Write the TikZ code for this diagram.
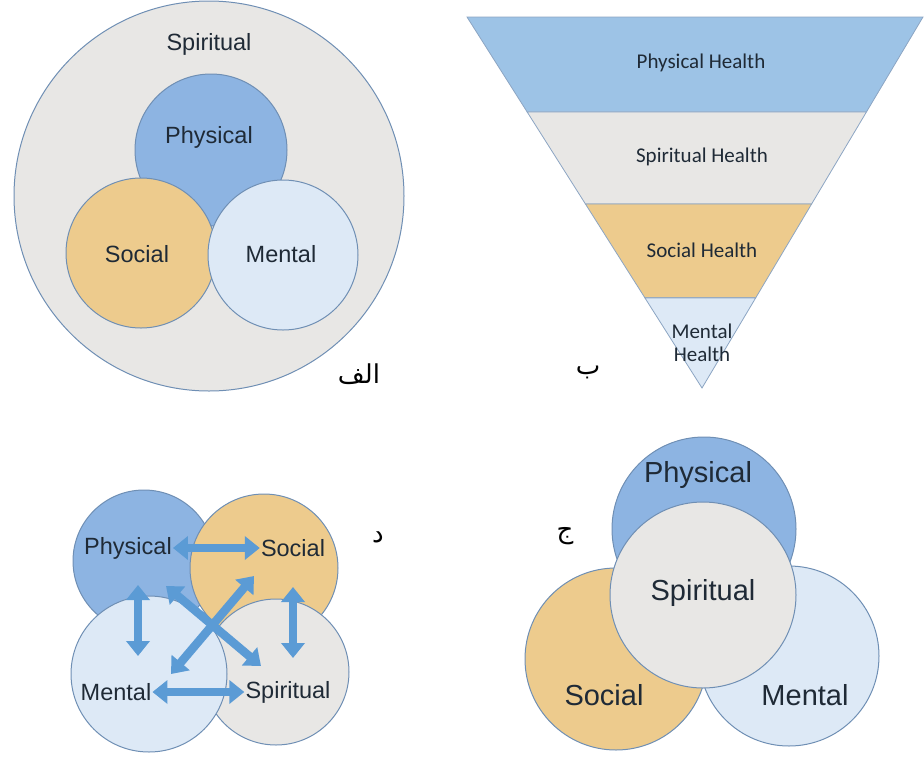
\documentclass[tikz,border=0pt]{standalone}
\usepackage{fontspec}
\setmainfont{Liberation Sans}
\newfontfamily\calibri{Carlito}
\newfontfamily\arabicfont[Script=Arabic]{DejaVu Sans}
\TeXXeTstate=1
\usetikzlibrary{arrows.meta}
\usetikzlibrary{calc}
\usetikzlibrary{positioning}

\definecolor{physblue}{HTML}{8DB4E2}
\definecolor{physlight}{HTML}{9DC3E6}
\definecolor{spirgrey}{HTML}{E8E7E5}
\definecolor{socialtan}{HTML}{EDCB8D}
\definecolor{mentalblue}{HTML}{DDE9F6}
\definecolor{rimblue}{HTML}{6F8FB4}
\definecolor{arrowblue}{HTML}{5B9BD5}
\definecolor{inktext}{HTML}{1F2A36}

\tikzset{
	ring/.style = {circle, draw = rimblue, line width = 1pt, inner sep = 0pt},
	lbl/.style = {text = inktext, font = \fontsize{23.5}{27}\selectfont},
	biglbl/.style = {text = inktext, font = \fontsize{29}{33}\selectfont},
	bandlbl/.style = {text = inktext, font = \calibri\fontsize{21}{24}\selectfont, align = center},
	band/.style = {draw = rimblue!80, line width = 0.8pt},
	tag/.style = {font = \arabicfont\fontsize{26}{30}\selectfont},
	twoway/.style = {{Triangle[width = 23pt, length = 15pt]}-{Triangle[width = 23pt, length = 15pt]},
		draw = arrowblue, line width = 8.5pt}
}

\begin{document}
\begin{tikzpicture}[x = 1pt, y = -1pt]
	\useasboundingbox (0,0) rectangle (924,756);
	
	% panel A : nested circles
	\node [ring, fill = spirgrey, minimum size = 390pt] (aspir) at (209,196) {};
	\node [ring, fill = physblue, minimum size = 152pt] (aphys) at (211,150) {};
	\node [ring, fill = socialtan, minimum size = 150pt] (asoc) at (141,253) {};
	\node [ring, fill = mentalblue, minimum size = 150pt] (ament) at (283,255) {};
	\node [lbl] (aspirtext) at (209,44) {Spiritual};
	\node [lbl] (aphystext) at (209,137) {Physical};
	\node [lbl] (asoctext) at (137,254) {Social};
	\node [lbl] (amenttext) at (281,254) {Mental};
	\node [tag] (atag) at (359,374) {\beginR الف\endR};
	
	% panel B : inverted triangle
	\coordinate (tl) at (467,17);
	\coordinate (tr) at (923,17);
	\coordinate (apex) at (702,388);
	\coordinate (l1) at ($(tl)!0.256!(apex)$);
	\coordinate (r1) at ($(tr)!0.256!(apex)$);
	\coordinate (l2) at ($(tl)!0.504!(apex)$);
	\coordinate (r2) at ($(tr)!0.504!(apex)$);
	\coordinate (l3) at ($(tl)!0.757!(apex)$);
	\coordinate (r3) at ($(tr)!0.757!(apex)$);
	\filldraw [band, fill = physlight] (tl) -- (tr) -- (r1) -- (l1) -- cycle;
	\filldraw [band, fill = spirgrey] (l1) -- (r1) -- (r2) -- (l2) -- cycle;
	\filldraw [band, fill = socialtan] (l2) -- (r2) -- (r3) -- (l3) -- cycle;
	\filldraw [band, fill = mentalblue] (l3) -- (r3) -- (apex) -- cycle;
	\node [bandlbl] (bphys) at (701,63) {Physical Health};
	\node [bandlbl] (bspir) at (702,157) {Spiritual Health};
	\node [bandlbl] (bsoc) at (702,250) {Social Health};
	\node [bandlbl] (bment) at (702,343) {Mental\\[-1pt]Health};
	\node [tag] (btag) at (588,372) {\beginR ب\endR};
	
	% panel C : spiritual in the middle
	\node [ring, fill = physblue, minimum size = 184pt] (cphys) at (704,529) {};
	\node [ring, fill = socialtan, minimum size = 182pt] (csoc) at (616,659) {};
	\node [ring, fill = mentalblue, minimum size = 180pt] (cment) at (789,656) {};
	\node [ring, fill = spirgrey, minimum size = 186pt] (cspir) at (703,595) {};
	\node [biglbl] (cphystext) at (698,475) {Physical};
	\node [biglbl] (cspirtext) at (703,593) {Spiritual};
	\node [biglbl] (csoctext) at (604,695) {Social};
	\node [biglbl] (cmenttext) at (805,695) {Mental};
	\node [tag] (ctag) at (565,536) {\beginR ج\endR};
	
	% panel D : four circles, all linked
	\node [ring, fill = physblue, minimum size = 142pt] (dphys) at (144,561) {};
	\node [ring, fill = socialtan, minimum size = 148pt] (dsoc) at (264,568) {};
	\node [ring, fill = spirgrey, minimum size = 146pt] (dspir) at (276,672) {};
	\node [ring, fill = mentalblue, minimum size = 156pt] (dment) at (149,674) {};
	\node [lbl, inner sep = 1pt] (dphystext) at (128,548) {Physical};
	\node [lbl, inner sep = 1pt] (dsoctext) at (293,548) {Social};
	\node [lbl, inner sep = 1pt] (dmenttext) at (116,692) {Mental};
	\node [lbl, inner sep = 1pt] (dspirtext) at (288,692) {Spiritual};
	\node [tag] (dtag) at (378,537) {\beginR د\endR};
	
	\coordinate (pm1) at (138,585);
	\coordinate (pm2) at (138,656);
	\coordinate (ss1) at (293,587);
	\coordinate (ss2) at (293,658);
	\coordinate (px1) at (166,586);
	\coordinate (px2) at (261,666);
	\coordinate (sx1) at (254,576);
	\coordinate (sx2) at (171,674);
	\draw [twoway] (dphystext.east) -- (dsoctext.west);
	\draw [twoway] (dmenttext.east) -- (dspirtext.west);
	\draw [twoway] (pm1) -- (pm2);
	\draw [twoway] (ss1) -- (ss2);
	\draw [twoway] (px1) -- (px2);
	\draw [twoway] (sx1) -- (sx2);
\end{tikzpicture}
\end{document}
